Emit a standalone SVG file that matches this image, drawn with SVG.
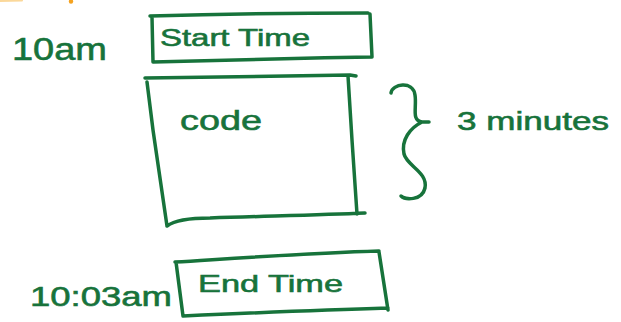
<svg xmlns="http://www.w3.org/2000/svg" width="621" height="322" viewBox="0 0 621 322">
<style>
.ink{fill:none;stroke:#17733b;stroke-width:3.5;stroke-linecap:round;stroke-linejoin:round}
.t{fill:#17733b;font-family:"Liberation Sans","DejaVu Sans",sans-serif;stroke:#17733b;stroke-width:0.6}
</style>
<rect width="621" height="322" fill="#ffffff"/>
<g id="orange-marks">
<path d="M0,1 L22,0.5" stroke="#fbd89a" stroke-width="2" fill="none" stroke-linecap="round"/>
<circle cx="71" cy="1.5" r="2.2" fill="#f5a21f"/>
</g>
<g id="start-label"><text class="t" x="12" y="60" font-size="32" textLength="95" lengthAdjust="spacingAndGlyphs">10am</text></g>
<g id="start-time">
<path class="ink" d="M152,17 L153,62 M150,16 C220,14 300,13 368,13 M370,14 L372,57 M153,62 C230,60 300,58 372,57"/>
<text class="t" x="160" y="46" font-size="24" textLength="150" lengthAdjust="spacingAndGlyphs">Start Time</text>
</g>
<g id="code">
<path class="ink" d="M145,78 C210,77 280,76 350,75 L356,76 M147,82 L153,130 L167,226 M167,226 C175,220 190,218 210,218 C270,216 320,215 365,213 M348,76 L352,140 L357,214"/>
<text class="t" x="180" y="130" font-size="28" textLength="82" lengthAdjust="spacingAndGlyphs">code</text>
</g>
<g id="brace">
<path class="ink" d="M391,93 C392,84 413,80 415,95 C417,108 411,120 422,122 L429,122 M422,122 C410,128 401,140 404,154 C407,166 428,172 425,188 C422,201 405,200 401,196"/>
</g>
<g id="duration"><text class="t" x="457" y="130" font-size="26" textLength="152" lengthAdjust="spacingAndGlyphs">3 minutes</text></g>
<g id="end-time">
<path class="ink" d="M175,262 C240,258 310,253 379,251 M176,262 L183,316 M183,316 C250,313 320,310 388,308 M379,252 L388,310"/>
<text class="t" x="198" y="292" font-size="24" textLength="145" lengthAdjust="spacingAndGlyphs">End Time</text>
</g>
<g id="end-label"><text class="t" x="30" y="306" font-size="28" textLength="142" lengthAdjust="spacingAndGlyphs">10:03am</text></g>
<g id="connectors"></g>
</svg>
